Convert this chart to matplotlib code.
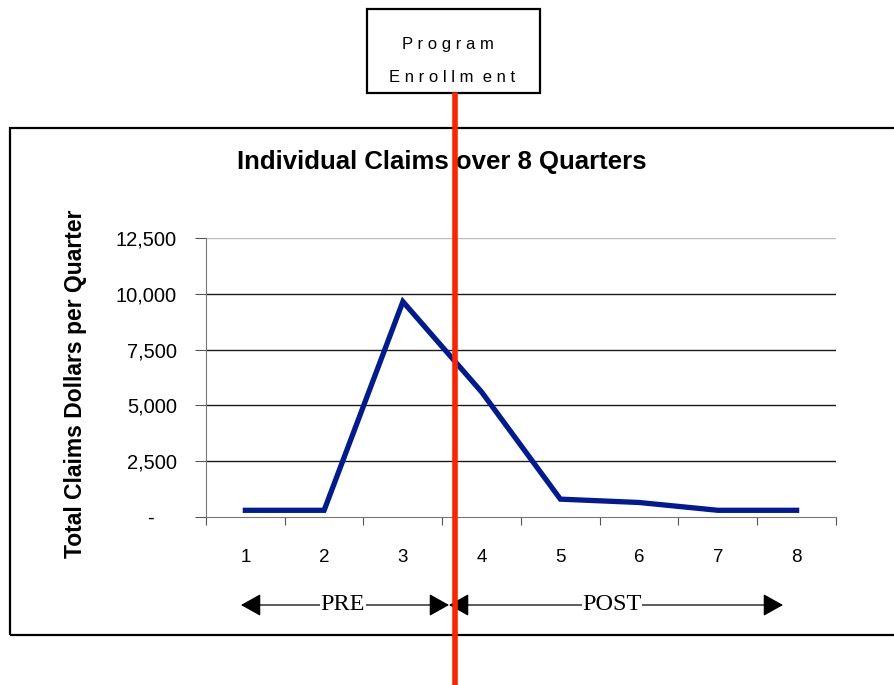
import matplotlib
matplotlib.use("Agg")
import matplotlib.pyplot as plt
from matplotlib.lines import Line2D
from matplotlib.patches import Rectangle

quarters = [1, 2, 3, 4, 5, 6, 7, 8]
claims = [300, 300, 9650, 5600, 800, 650, 300, 300]
y_ticks = [0, 2500, 5000, 7500, 10000, 12500]
y_labels = ["-    ", "2,500", "5,000", "7,500", "10,000", "12,500"]

W, H = 895, 685
fig = plt.figure(figsize=(W / 100, H / 100), dpi=100)


def fx(px):
    return px / W


def fy(py):
    return 1 - py / H


# outer chart frame
fig.add_artist(Rectangle((fx(10), fy(635)), fx(900) - fx(10), fy(128) - fy(635),
                         transform=fig.transFigure, fill=False, lw=1.6, ec="black"))

ax = fig.add_axes([fx(206), fy(517), fx(836) - fx(206), fy(238) - fy(517)])
ax.plot(quarters, claims, color="#001A94", lw=3.8, solid_joinstyle="miter", zorder=3)

ax.set_xlim(0.5, 8.5)
ax.set_ylim(0, 12500)
ax.set_yticks(y_ticks)
ax.set_yticklabels(y_labels, fontsize=14.5, family="Liberation Sans")
ax.set_xticks([q + 0.5 for q in [0] + quarters])
ax.set_xticklabels([])
ax.set_xticks(quarters, minor=True)
ax.set_xticklabels([str(q) for q in quarters], minor=True, fontsize=13.5,
                   family="Liberation Sans")
ax.tick_params(axis="x", which="major", direction="out", length=6, color="#555555")
ax.tick_params(axis="x", which="minor", length=0, pad=23)
ax.tick_params(axis="y", direction="out", length=8, color="#555555", pad=13)

for v in y_ticks[1:-1]:
    ax.axhline(v, color="#1a1a1a", lw=1.0, zorder=1)
ax.axhline(y_ticks[-1], color="#bbbbbb", lw=1.0, zorder=1)
for s in ["top", "right"]:
    ax.spines[s].set_visible(False)
ax.spines["left"].set_color("#777777")
ax.spines["bottom"].set_color("#777777")

fig.text(fx(442), fy(162), "Individual Claims over 8 Quarters", ha="center", va="center",
         fontsize=18.5, fontweight="bold", family="Liberation Sans")
fig.text(fx(76), fy(384), "Total Claims Dollars per Quarter", ha="center", va="center",
         rotation=90, fontsize=16.5, fontweight="bold", family="Liberation Sans")

# PRE / POST arrows
arrow_y = fy(605)
for x0, x1, label, xt in [(241, 449, "PRE", 343), (449, 783, "POST", 612)]:
    fig.add_artist(plt.Annotation("", xy=(fx(x0), arrow_y), xytext=(fx(x1), arrow_y),
                                  xycoords="figure fraction", textcoords="figure fraction",
                                  arrowprops=dict(arrowstyle="<|-|>,head_length=1.25,head_width=0.7",
                                                  color="black", lw=0.9, shrinkA=0, shrinkB=0)))
    fig.text(fx(xt), arrow_y, label, ha="center", va="center", fontsize=17.5,
             family="Liberation Serif",
             bbox=dict(facecolor="white", edgecolor="none", pad=0.5))

# program enrollment marker
fig.add_artist(Rectangle((fx(367), fy(93)), fx(540) - fx(367), fy(9) - fy(93),
                         transform=fig.transFigure, fill=False, lw=1.6, ec="black"))
fig.text(fx(448), fy(44), "P r o g r a m", ha="center", va="center", fontsize=12,
         family="Liberation Sans")
fig.text(fx(452), fy(78), "E n r o l l m  e n t", ha="center", va="center", fontsize=12,
         family="Liberation Sans")
fig.add_artist(Line2D([fx(455), fx(455)], [0, fy(95)], transform=fig.transFigure,
                      color="#FF2200", lw=4, zorder=10))

fig.savefig("out.png", dpi=100)
